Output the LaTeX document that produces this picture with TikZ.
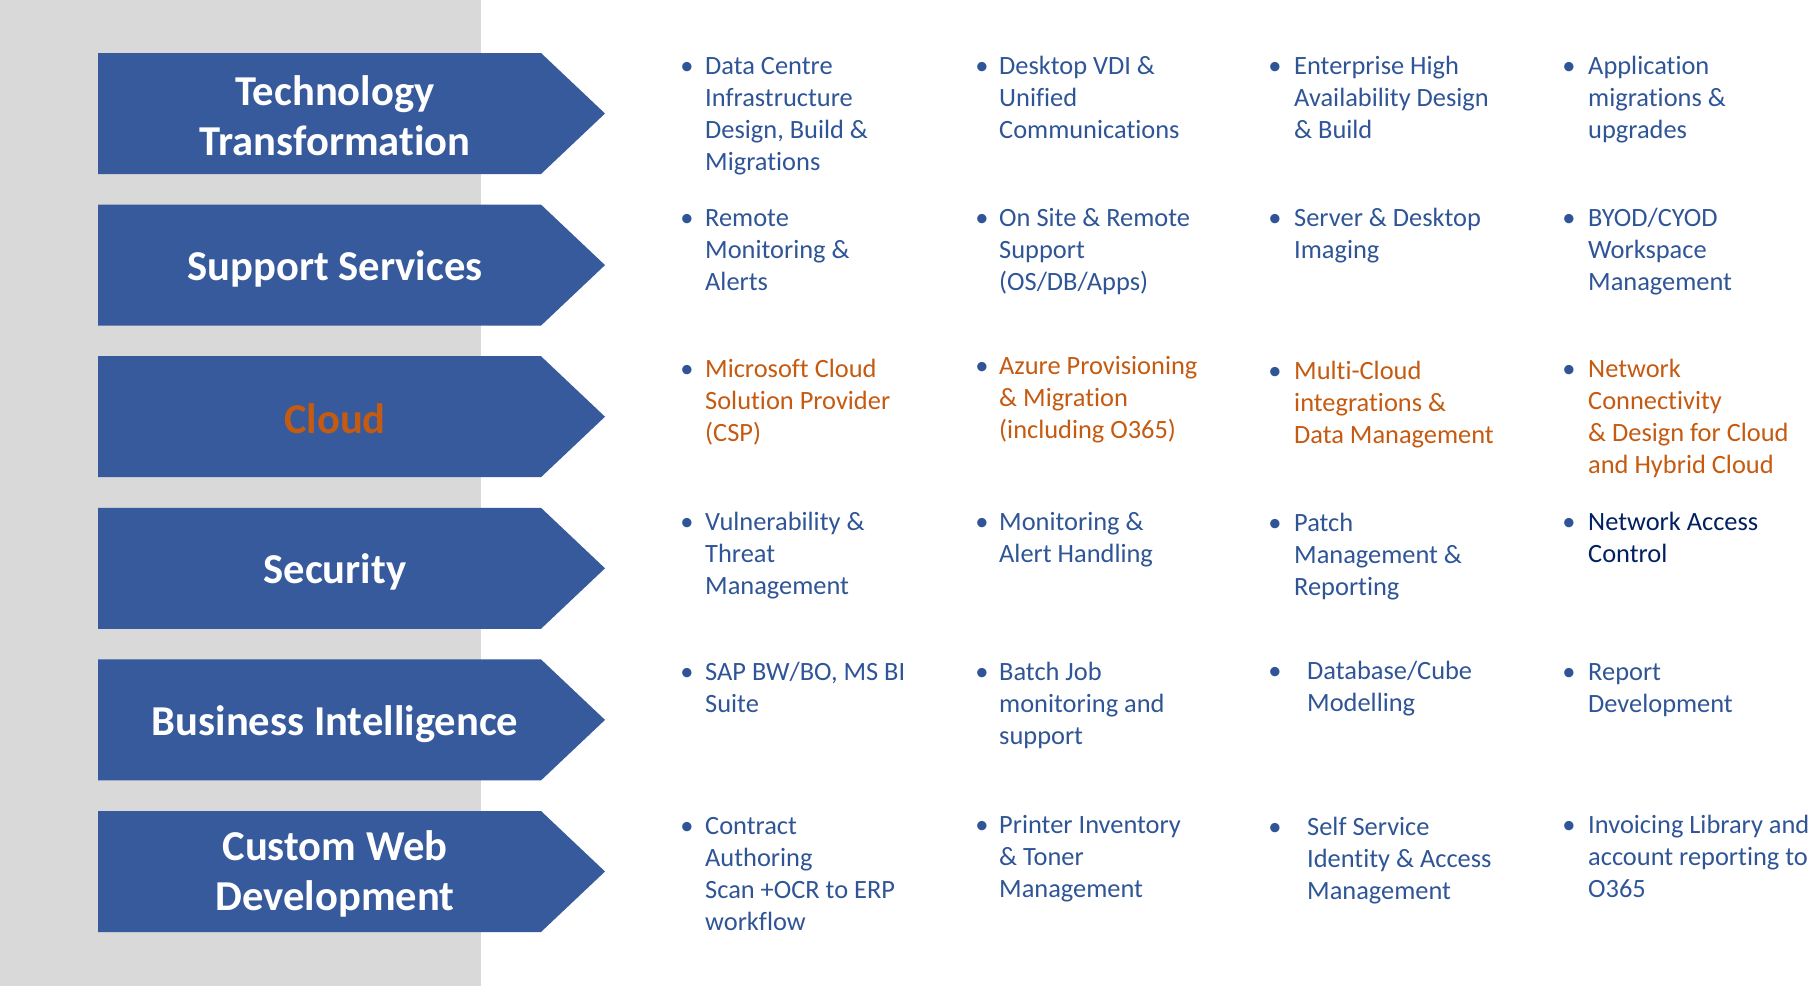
\documentclass[tikz,border=0pt]{standalone}
\usepackage{fontspec}
\setmainfont{Carlito}[Ligatures={NoCommon}]
\definecolor{panelgray}{HTML}{D9D9D9}
\definecolor{arrowblue}{HTML}{365A9B}
\definecolor{txtblue}{HTML}{2F5597}
\definecolor{txtorange}{HTML}{C55A11}
\definecolor{txtnavy}{HTML}{002060}
\tikzset{
  arrowshape/.style={fill=arrowblue},
  lbl/.style={font=\bfseries\fontsize{42.6}{50}\selectfont, text=white, align=center, inner sep=0pt},
  bul/.style={font=\fontsize{26.4}{32}\selectfont, text=txtblue, anchor=base, inner sep=0pt},
  itm/.style={font=\fontsize{26.4}{32}\selectfont, anchor=base west, inner sep=0pt},
}
\newcommand\svcell[6]{%
  \node[bul] (#1b) at (#2,#4) {\textbullet};
  \node[itm, text=#5] (#1) at (#3,#4) {\begin{tabular}[t]{@{}l@{}}#6\end{tabular}};
}
\newcommand\svarrow[1]{%
  \fill[arrowshape] (98,#1) -- (541,#1) -- (605,#1+60.5) -- (541,#1+121) -- (98,#1+121) -- cycle;
}
\begin{document}
\begin{tikzpicture}[x=1pt,y=-1pt]
\useasboundingbox (0,0) rectangle (1813,986);
\fill[white] (0,0) rectangle (1813,986);
\fill[panelgray] (0,0) rectangle (481,986);

% arrows
\svarrow{53}
\svarrow{204.6}
\svarrow{356.2}
\svarrow{507.8}
\svarrow{659.4}
\svarrow{811}

\node[lbl] (a1) at (335,116) {Technology\\Transformation};
\node[lbl] (a2) at (335,269) {Support Services};
\node[lbl, text=txtorange] (a3) at (335,419) {Cloud};
\node[lbl] (a4) at (335,572) {Security};
\node[lbl] (a5) at (335,724) {Business Intelligence};
\node[lbl] (a6) at (335,874) {Custom Web\\Development};

% row 1
\svcell{r1c1}{687}{705}{74}{txtblue}{Data Centre\\Infrastructure\\Design, Build \&\\Migrations}
\svcell{r1c2}{982}{999}{74}{txtblue}{Desktop VDI \&\\Unified\\Communications}
\svcell{r1c3}{1275}{1294}{74}{txtblue}{Enterprise High\\Availability Design\\\& Build}
\svcell{r1c4}{1569}{1588}{74}{txtblue}{Application\\migrations \&\\upgrades}
% row 2
\svcell{r2c1}{687}{705}{226}{txtblue}{Remote\\Monitoring \&\\Alerts}
\svcell{r2c2}{982}{999}{226}{txtblue}{On Site \& Remote\\Support\\(OS/DB/Apps)}
\svcell{r2c3}{1275}{1294}{226}{txtblue}{Server \& Desktop\\Imaging}
\svcell{r2c4}{1569}{1588}{226}{txtblue}{BYOD/CYOD\\Workspace\\Management}
% row 3
\svcell{r3c1}{687}{705}{377}{txtorange}{Microsoft Cloud\\Solution Provider\\(CSP)}
\svcell{r3c2}{982}{999}{374}{txtorange}{Azure Provisioning\\\& Migration\\(including O365)}
\svcell{r3c3}{1275}{1294}{379}{txtorange}{Multi-Cloud\\integrations \&\\Data Management}
\svcell{r3c4}{1569}{1588}{377}{txtorange}{Network\\Connectivity\\\& Design for Cloud\\and Hybrid Cloud}
% row 4
\svcell{r4c1}{687}{705}{530}{txtblue}{Vulnerability \&\\Threat\\Management}
\svcell{r4c2}{982}{999}{530}{txtblue}{Monitoring \&\\Alert Handling}
\svcell{r4c3}{1275}{1294}{531}{txtblue}{Patch\\Management \&\\Reporting}
\svcell{r4c4}{1569}{1588}{530}{txtnavy}{Network Access\\Control}
% row 5
\svcell{r5c1}{687}{705}{680}{txtblue}{SAP BW/BO, MS BI\\Suite}
\svcell{r5c2}{982}{999}{680}{txtblue}{Batch Job\\monitoring and\\support}
\svcell{r5c3}{1275}{1307}{679}{txtblue}{Database/Cube\\Modelling}
\svcell{r5c4}{1569}{1588}{680}{txtblue}{Report\\Development}
% row 6
\svcell{r6c1}{687}{705}{834}{txtblue}{Contract\\Authoring\\Scan +OCR to ERP\\workflow}
\svcell{r6c2}{982}{999}{833}{txtblue}{Printer Inventory\\\& Toner\\Management}
\svcell{r6c3}{1275}{1307}{835}{txtblue}{Self Service\\Identity \& Access\\Management}
\svcell{r6c4}{1569}{1588}{833}{txtblue}{Invoicing Library and\\account reporting to\\O365}
\end{tikzpicture}
\end{document}
